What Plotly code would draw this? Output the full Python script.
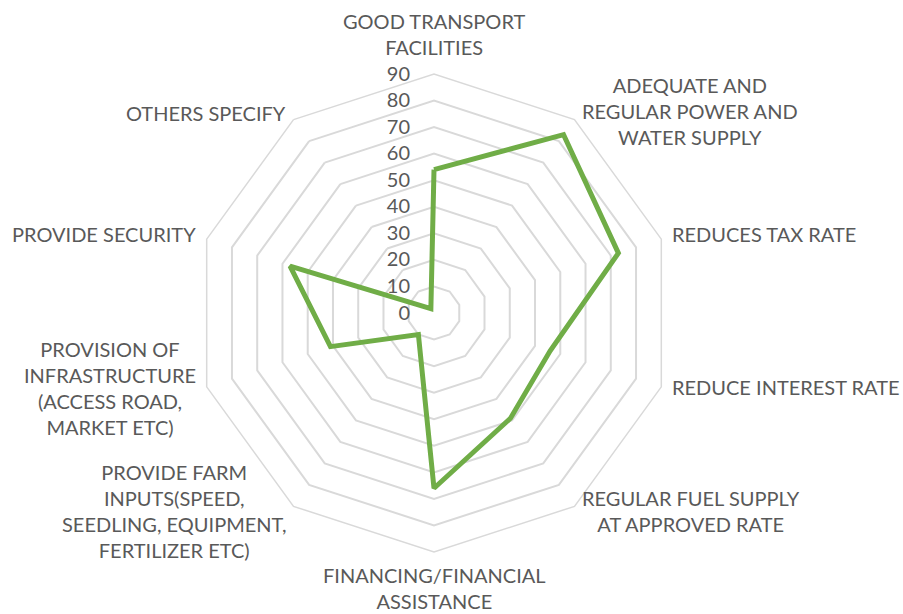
import plotly.graph_objects as go

categories = [
    "GOOD TRANSPORT FACILITIES",
    "ADEQUATE AND REGULAR POWER AND WATER SUPPLY",
    "REDUCES TAX RATE",
    "REDUCE INTEREST RATE",
    "REGULAR FUEL SUPPLY AT APPROVED RATE",
    "FINANCING/FINANCIAL ASSISTANCE",
    "PROVIDE FARM INPUTS(SPEED, SEEDLING, EQUIPMENT, FERTILIZER ETC)",
    "PROVISION OF INFRASTRUCTURE (ACCESS ROAD, MARKET ETC)",
    "PROVIDE SECURITY",
    "OTHERS SPECIFY",
]
label_text = [
    "GOOD TRANSPORT<br>FACILITIES",
    "ADEQUATE AND<br>REGULAR POWER AND<br>WATER SUPPLY",
    "REDUCES TAX RATE",
    "REDUCE INTEREST RATE",
    "REGULAR FUEL SUPPLY<br>AT APPROVED RATE",
    "FINANCING/FINANCIAL<br>ASSISTANCE",
    "PROVIDE FARM<br>INPUTS(SPEED,<br>SEEDLING, EQUIPMENT,<br>FERTILIZER ETC)",
    "PROVISION OF<br>INFRASTRUCTURE<br>(ACCESS ROAD,<br>MARKET ETC)",
    "PROVIDE SECURITY",
    "OTHERS SPECIFY",
]
values = [54, 83, 73, 46, 49, 66, 10, 41, 57, 2]
radial_ticks = [0, 10, 20, 30, 40, 50, 60, 70, 80, 90]

# label placement (pixel anchor x, pixel center y, horizontal anchor)
label_pos = [
    (434, 34, "center"),
    (580, 111, "left"),
    (670, 234, "left"),
    (670, 387, "left"),
    (580, 511, "left"),
    (434, 588, "center"),
    (288, 511, "right"),
    (198, 388, "right"),
    (198, 234, "right"),
    (288, 113, "right"),
]

fig = go.Figure()
fig.add_trace(go.Scatterpolar(
    r=values + values[:1],
    theta=categories + categories[:1],
    mode="lines",
    line=dict(color="#70AD47", width=5),
    showlegend=False,
))

W, H = 903, 614
cx, cy, R = 434, 313, 239
NB = "\u00a0"
FONT = "Lato, Open Sans, sans-serif"
fig.update_layout(
    width=W, height=H,
    margin=dict(l=0, r=0, t=0, b=0),
    paper_bgcolor="white",
    font=dict(family=FONT, size=20, color="#595959"),
    polar=dict(
        domain=dict(x=[(cx - R) / W, (cx + R) / W], y=[(H - cy - R) / H, (H - cy + R) / H]),
        gridshape="linear",
        bgcolor="white",
        radialaxis=dict(
            range=[0, 90], tickvals=radial_ticks,
            ticktext=[f"{t}" + NB * 4 for t in radial_ticks],
            angle=90, tickangle=90,
            showline=False, ticks="", gridcolor="#D9D9D9", gridwidth=1.5,
            side="counterclockwise",
            tickfont=dict(size=20, color="#595959"),
        ),
        angularaxis=dict(
            rotation=90, direction="clockwise",
            tickvals=categories, showticklabels=False,
            showgrid=False, showline=True, linecolor="#D9D9D9", linewidth=1.5,
            ticks="",
        ),
    ),
)
for txt, (px, py, anc) in zip(label_text, label_pos):
    fig.add_annotation(
        text=txt, xref="paper", yref="paper",
        x=px / W, y=1 - py / H, xanchor=anc, yanchor="middle",
        align="center", showarrow=False,
        font=dict(family=FONT, size=20, color="#595959"),
    )
fig.write_html(
    "out.html",
    config={"displayModeBar": False},
    post_script="document.body.style.margin='0';",
)
